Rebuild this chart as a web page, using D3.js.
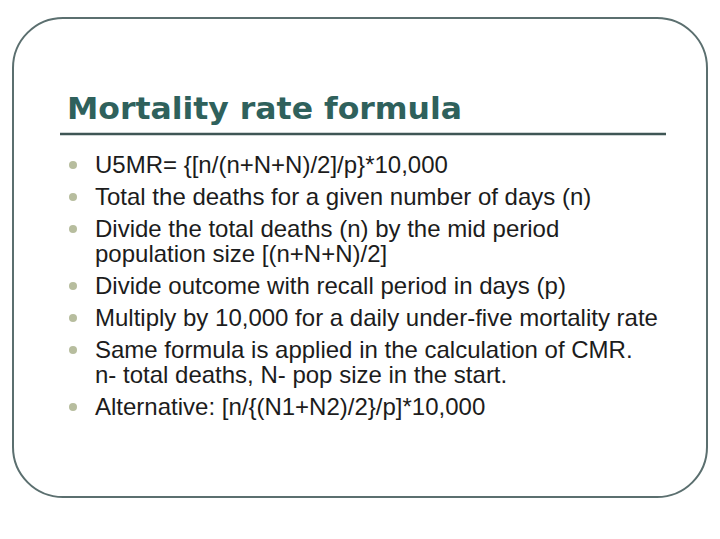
<!DOCTYPE html>
<html>
<head>
<meta charset="utf-8">
<script src="https://cdn.jsdelivr.net/npm/d3@7"></script>
<style>
html,body{margin:0;padding:0;background:#fff;}
svg{display:block;}
</style>
</head>
<body>
<svg id="chart" width="720" height="539"></svg>
<script>
const titleText = "Mortality rate formula";
const bulletItems = [
  ["U5MR= {[n/(n+N+N)/2]/p}*10,000"],
  ["Total the deaths for a given number of days (n)"],
  ["Divide the total deaths (n) by the mid period", "population size [(n+N+N)/2]"],
  ["Divide outcome with recall period in days (p)"],
  ["Multiply by 10,000 for a daily under-five mortality rate"],
  ["Same formula is applied in the calculation of CMR.", "n- total deaths, N- pop size in the start."],
  ["Alternative: [n/{(N1+N2)/2}/p]*10,000"]
];

const svg = d3.select("#chart");

// frame
svg.append("rect")
  .attr("x", 13).attr("y", 18).attr("width", 694).attr("height", 479)
  .attr("rx", 50).attr("ry", 50)
  .attr("fill", "#fff").attr("stroke", "#5b6f6f").attr("stroke-width", 2);

// title
const title = svg.append("text")
  .attr("x", 67).attr("y", 119)
  .attr("font-family", "'DejaVu Sans', 'Liberation Sans', sans-serif")
  .attr("font-weight", "bold").attr("font-size", 31)
  .attr("fill", "#2f615c")
  .text(titleText);
title.attr("textLength", 395).attr("lengthAdjust", "spacingAndGlyphs");

svg.append("line")
  .attr("x1", 60).attr("x2", 666).attr("y1", 134).attr("y2", 134)
  .attr("stroke", "#3f5655").attr("stroke-width", 2.5);

// line layout via a linear scale on cumulative line units
const rows = [];
let u = 0;
bulletItems.forEach((item) => {
  item.forEach((t, j) => {
    rows.push({text: t, bullet: j === 0, unit: u});
    u += (j < item.length - 1) ? 0.78 : 1;
  });
});
const y = d3.scaleLinear().domain([0, 1]).range([173, 205]);

const g = svg.append("g");
g.selectAll("circle").data(rows.filter(r => r.bullet)).join("circle")
  .attr("cx", 73).attr("cy", d => y(d.unit) - 8).attr("r", 4)
  .attr("fill", "#b7bd9e");
g.selectAll("text").data(rows).join("text")
  .attr("x", 95).attr("y", d => y(d.unit))
  .attr("font-family", "'Liberation Sans', Arial, sans-serif")
  .attr("font-size", 24).attr("fill", "#1c1c1c")
  .text(d => d.text);
</script>
</body>
</html>
